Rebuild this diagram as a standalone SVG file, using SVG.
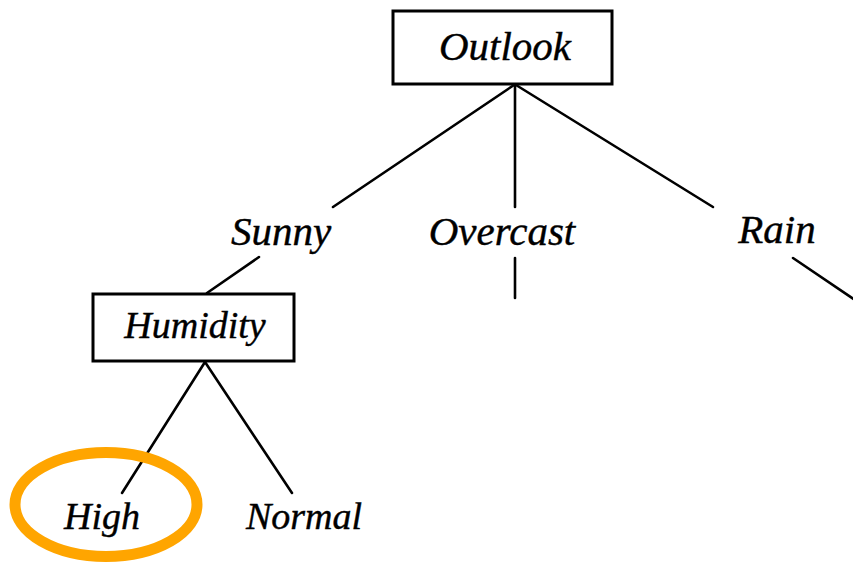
<svg xmlns="http://www.w3.org/2000/svg" width="853" height="563" viewBox="0 0 853 563">
  <style>
    .box { fill: #fff; stroke: #000; stroke-width: 3; }
    .edge { stroke: #000; stroke-width: 2.6; fill: none; stroke-linecap: round; }
    .lbl { font-family: "Liberation Serif", "Times New Roman", serif; font-style: italic; fill: #000; text-anchor: middle; stroke: #000; stroke-width: 0.4; }
    .big { font-size: 41px; }
    .small { font-size: 38px; }
    .mark { fill: none; stroke: #FFA500; stroke-width: 11; }
  </style>
  <rect width="853" height="563" fill="#fff"/>

  <!-- tree branches -->
  <g id="connectors">
    <line class="edge" x1="514" y1="85" x2="333" y2="207"/>
    <line class="edge" x1="515" y1="85" x2="515" y2="207"/>
    <line class="edge" x1="515" y1="258" x2="515" y2="298"/>
    <line class="edge" x1="516" y1="85" x2="713" y2="207"/>
    <line class="edge" x1="793" y1="258" x2="855" y2="300"/>
    <line class="edge" x1="259" y1="257" x2="207" y2="293"/>
    <line class="edge" x1="205" y1="362" x2="122" y2="493"/>
    <line class="edge" x1="205" y1="362" x2="292" y2="493"/>
  </g>

  <g id="outlook">
    <rect class="box" x="393" y="11" width="219" height="73"/>
    <text class="lbl big" x="505" y="60">Outlook</text>
  </g>

  <g id="sunny">
    <text class="lbl big" x="281" y="245">Sunny</text>
  </g>

  <g id="overcast">
    <text class="lbl big" x="502" y="245">Overcast</text>
  </g>

  <g id="rain">
    <text class="lbl big" x="777" y="243">Rain</text>
  </g>

  <g id="humidity">
    <rect class="box" x="93" y="294" width="201" height="67"/>
    <text class="lbl small" x="195" y="338">Humidity</text>
  </g>

  <g id="high">
    <text class="lbl small" x="102" y="529">High</text>
    <ellipse class="mark" cx="106" cy="504.5" rx="91" ry="52"/>
  </g>

  <g id="normal">
    <text class="lbl small" x="304" y="529">Normal</text>
  </g>
</svg>
